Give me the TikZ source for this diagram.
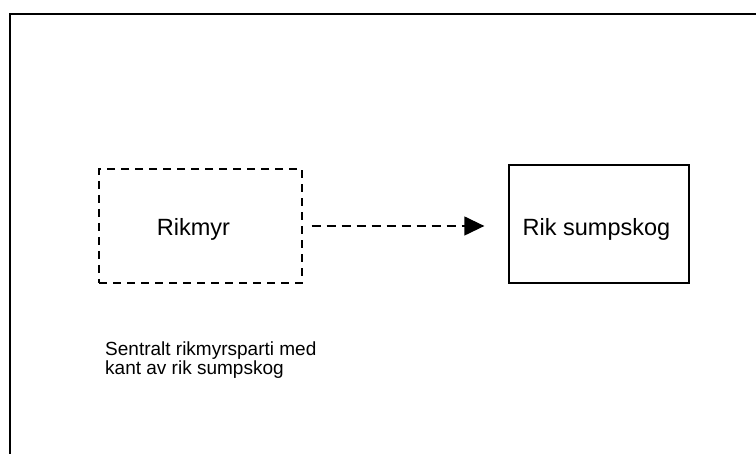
\documentclass[tikz,border=0pt]{standalone}
\usepackage{fontspec}
\setmainfont{Liberation Sans}
\usetikzlibrary{arrows.meta}
\tikzset{
  dashbox/.style={draw, line width=1.3pt, dash pattern=on 8pt off 6pt, minimum width=203pt, minimum height=114pt, inner sep=0pt},
  solidbox/.style={draw, line width=1.3pt, minimum width=180pt, minimum height=118pt, inner sep=0pt},
  frameline/.style={line width=2pt},
  flow/.style={line width=1.3pt, dash pattern=on 9pt off 6pt, -{Triangle[length=20pt,width=19pt]}},
  bigtext/.style={font=\fontsize{23.5}{28}\selectfont, inner sep=0pt, anchor=base},
  smalltext/.style={font=\fontsize{19}{18.5}\selectfont, align=left, inner sep=0pt, anchor=north west}
}
\begin{document}
\begin{tikzpicture}[x=1pt,y=1pt]
\useasboundingbox (0,0) rectangle (756,454);
\coordinate (ftr) at (756,440);
\coordinate (ftl) at (9.5,440);
\coordinate (fbl) at (9.5,0);
\draw[frameline] (ftr) -- (ftl) -- (fbl);
\node[dashbox] (a) at (200.5,228) {};
\node[bigtext] (at) at (193.5,218.5) {Rikmyr};
\node[solidbox] (b) at (599,230) {};
\node[bigtext] (bt) at (596.5,218.5) {Rik sumpskog};
\draw[flow] ([xshift=9pt]a.east) -- ([xshift=-24pt,yshift=-2pt]b.west);
\node[smalltext] (c) at (105,112) {Sentralt rikmyrsparti med\\kant av rik sumpskog};
\end{tikzpicture}
\end{document}
